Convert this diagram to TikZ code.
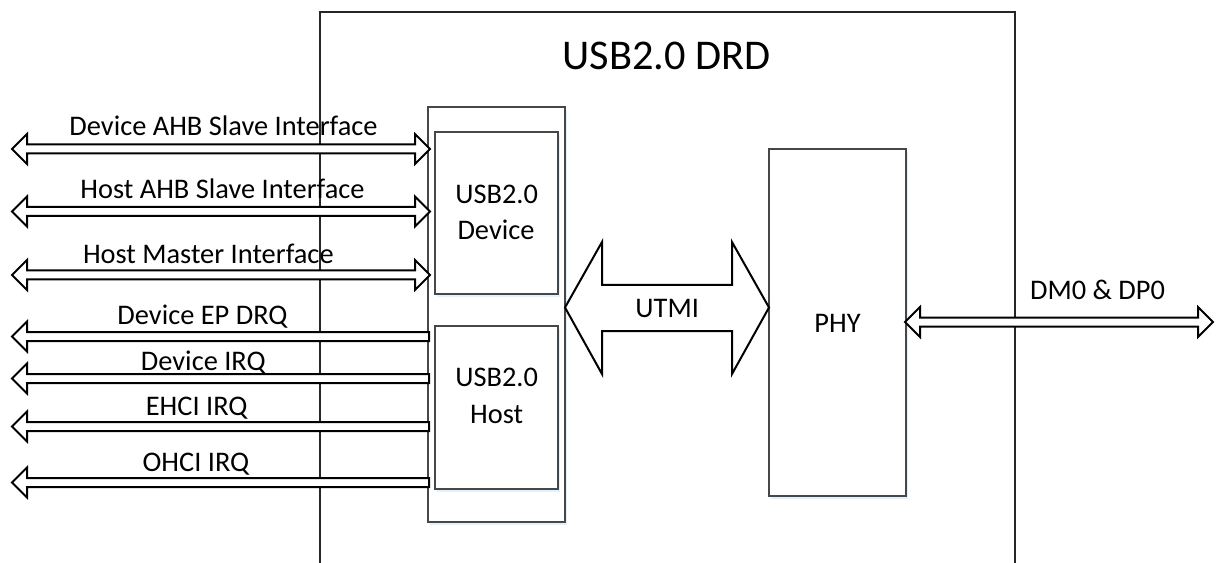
\documentclass[tikz,border=0pt]{standalone}
\usepackage{fontspec}
\setmainfont{Carlito}
\usetikzlibrary{shadows}
\newcommand{\DblArr}[3]{\draw[arr] (#1,#3) -- ({#1+15},{#3-15}) -- ({#1+15},{#3-4.5}) -- ({#2-15},{#3-4.5}) -- ({#2-15},{#3-15}) -- (#2,#3) -- ({#2-15},{#3+15}) -- ({#2-15},{#3+4.5}) -- ({#1+15},{#3+4.5}) -- ({#1+15},{#3+15}) -- cycle;}
\newcommand{\LftArr}[3]{\draw[arr] (#1,#3) -- ({#1+15},{#3-15}) -- ({#1+15},{#3-4.5}) -- (#2,{#3-4.5}) -- (#2,{#3+4.5}) -- ({#1+15},{#3+4.5}) -- ({#1+15},{#3+15}) -- cycle;}
\begin{document}
\begin{tikzpicture}[x=1bp,y=-1bp,
  lbl/.style={font=\fontsize{28.5}{34}\selectfont, inner sep=0pt, anchor=base},
  ttl/.style={font=\fontsize{42.5}{50}\selectfont, inner sep=0pt, anchor=base},
  blk/.style={draw=black!72, line width=1.3bp, fill=white, inner sep=0pt, outer sep=0pt, anchor=north west,
    drop shadow={shadow xshift=1.5bp, shadow yshift=-3bp, fill=blue!40!cyan, opacity=0.12}},
  arr/.style={draw=black, line width=2bp, fill=white, line join=miter}]
\useasboundingbox (0,0) rectangle (1216,563);
\fill[white] (0,0) rectangle (1216,563);
% outer DRD box (continues below the picture)
\coordinate (drdBL) at (320,563);
\coordinate (drdTL) at (320,12);
\coordinate (drdTR) at (1015,12);
\coordinate (drdBR) at (1015,563);
\draw[line width=1.3bp, draw=black!85] (drdBL) -- (drdTL) -- (drdTR) -- (drdBR);
\node[ttl] (title) at (666.7,70) {USB2.0 DRD};
% inner container and blocks
\node[blk, minimum width=137bp, minimum height=415bp] (cont) at (428,107) {};
\node[blk, minimum width=123bp, minimum height=162bp] (dev) at (435,132) {};
\node[blk, minimum width=123bp, minimum height=163bp] (host) at (435,326) {};
\node[blk, minimum width=137bp, minimum height=347bp] (phy) at (769,149) {};
\node[lbl] (devA) at (496.7,204) {USB2.0};
\node[lbl] (devB) at (496,240) {Device};
\node[lbl] (hostA) at (496.7,386.5) {USB2.0};
\node[lbl] (hostB) at (496.7,423) {Host};
\node[lbl] (phyT) at (837.5,332.7) {PHY};
% UTMI block arrow
\draw[arr] (565,307.5) -- (602,242) -- (602,285) -- (732,285) -- (732,242) -- (769,307.5)
  -- (732,374) -- (732,331) -- (602,331) -- (602,374) -- cycle;
\node[lbl] (utmi) at (667.2,317.7) {UTMI};
% left interface arrows
\DblArr{12}{430}{149}
\DblArr{12}{430}{211.5}
\DblArr{12}{430}{275}
\LftArr{12}{429}{336.5}
\LftArr{12}{429}{378.5}
\LftArr{12}{429}{426.5}
\LftArr{12}{429}{482.5}
\node[lbl] (l1) at (223.5,136) {Device AHB Slave Interface};
\node[lbl] (l2) at (222.5,198.3) {Host AHB Slave Interface};
\node[lbl] (l3) at (208.3,264) {Host Master Interface};
\node[lbl] (l4) at (202.5,325) {Device EP DRQ};
\node[lbl] (l5) at (203.3,370) {Device IRQ};
\node[lbl] (l6) at (196.7,415) {EHCI IRQ};
\node[lbl] (l7) at (196,471) {OHCI IRQ};
% right arrow
\DblArr{905}{1213}{322}
\node[lbl] (dm) at (1097.5,299.3) {DM0 \& DP0};
\end{tikzpicture}
\end{document}
